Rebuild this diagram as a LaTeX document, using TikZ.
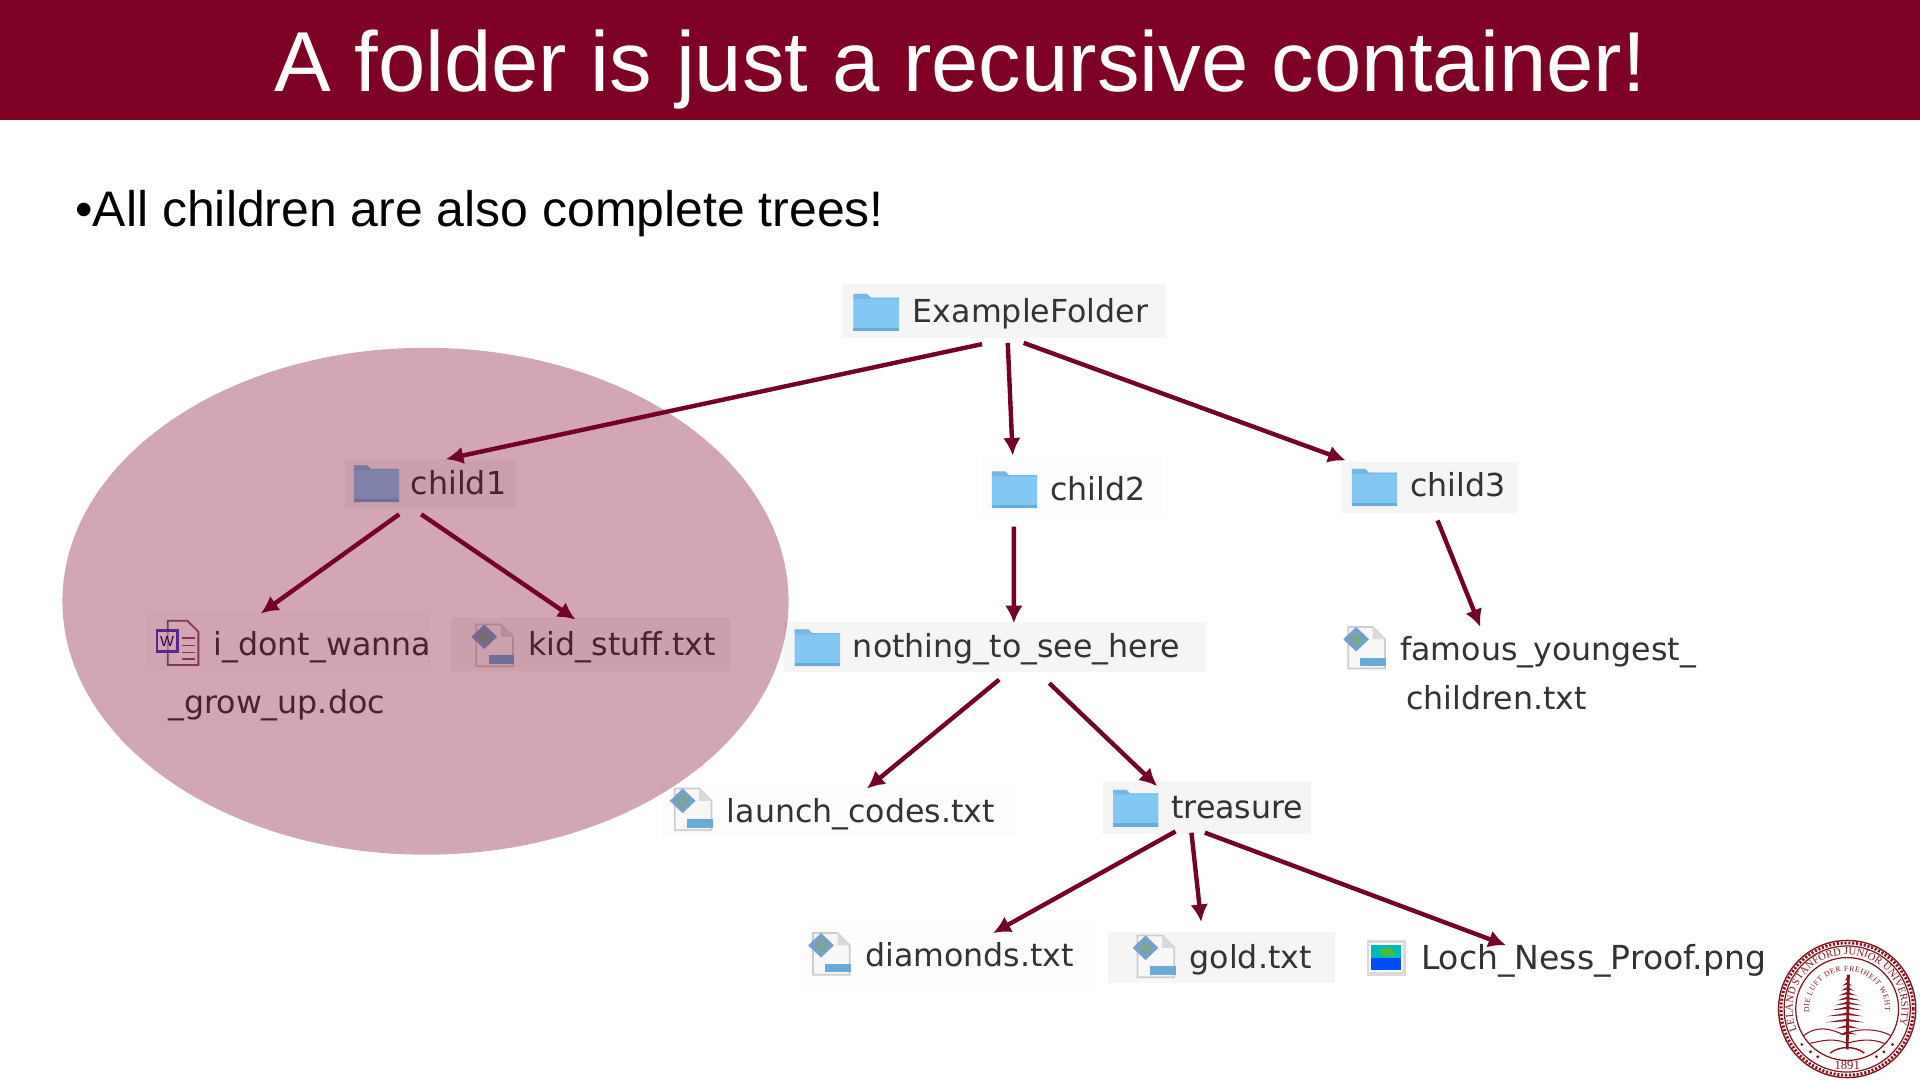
\documentclass[tikz,border=0pt]{standalone}
\usepackage{fontspec}
\setmainfont{Liberation Sans}
\newfontfamily\finderfont{DejaVu Sans}
\newfontfamily\sealfont{Liberation Serif}
\usepackage{xcolor}
\usetikzlibrary{positioning, arrows.meta, calc, fit, decorations.text}
\definecolor{SUBand}{RGB}{126,0,37}
\definecolor{SUArrow}{RGB}{115,0,40}
\definecolor{SUSeal}{RGB}{130,20,30}
\definecolor{SUFolder}{RGB}{130,200,245}
\definecolor{SUFolderDark}{RGB}{105,170,215}
\definecolor{SUBox}{RGB}{245,245,245}
\definecolor{SUFaint}{RGB}{253,253,253}
\definecolor{SUText}{RGB}{50,50,55}
\definecolor{SUGem}{RGB}{115,160,205}
\definecolor{SUGemCore}{RGB}{120,165,150}
\def\u{0.012245cm}
\tikzset{
  filebox/.style={inner sep=0pt, outer sep=0pt, draw=none, fill=#1},
  filelabel/.style={font=\finderfont\fontsize{9}{11}\selectfont, text=SUText,
                    anchor=mid west, inner sep=0pt},
  treearrow/.style={draw=SUArrow, line width=1.25pt,
                    -{Latex[length=5pt,width=5pt]}},
  pics/folder/.style={code={
    \fill[SUFolder] (0,2) -- (11,2) -- (14,5) -- (37,5) -- (37,32) -- (0,32) -- cycle;
    \fill[SUFolderDark] (0,29.5) rectangle (37,32);
    \fill[SUFolderDark, fill opacity=0.5] (0,2) -- (11,2) -- (14,5) -- (37,5) -- (37,6) -- (0,6) -- cycle;
  }},
  pics/textfile/.style={code={
    \fill[white!94!gray] (4,0) -- (24,0) -- (34,10) -- (34,34) -- (4,34) -- cycle;
    \draw[gray!40, line width=0.5pt] (4,0) -- (24,0) -- (34,10) -- (34,34) -- (4,34) -- cycle;
    \fill[gray!30] (24,0) -- (24,10) -- (34,10) -- cycle;
    \fill[SUGem] (10.5,0) -- (21,10) -- (10.5,20) -- (0,10) -- cycle;
    \fill[SUGemCore] (10.5,4) -- (16,10) -- (10.5,16) -- (5,10) -- cycle;
    \fill[SUFolderDark] (14,25) rectangle (35,32);
  }},
  pics/wordfile/.style={code={
    \fill[white, fill opacity=0.6] (10,0) -- (26,0) -- (35,9) -- (35,36) -- (10,36) -- cycle;
    \draw[gray!70!SUBand, line width=0.5pt] (10,0) -- (26,0) -- (35,9) -- (35,36) -- (10,36) -- cycle;
    \foreach \ly in {14,20,26,31} \draw[gray!70!SUBand, line width=0.4pt] (22,\ly) -- (32,\ly);
    \fill[white, fill opacity=0.5] (1,8) rectangle (18,25);
    \draw[blue!50!gray, line width=0.7pt] (1,8) rectangle (18,25);
    \node[font=\fontsize{4.2}{5}\selectfont, text=blue!50!black, inner sep=0pt] (wordmark) at (9.5,16.5) {W};
  }},
  pics/imagefile/.style={code={
    \fill[gray!30] (0,0) rectangle (32,29);
    \fill[white] (2,2) rectangle (30,26);
    \fill[blue!70!cyan] (4,14) rectangle (28,24);
    \fill[teal!55!cyan] (4,4) rectangle (28,14);
    \fill[green!50!gray] (10,8) -- (20,5) -- (24,12) -- (14,14) -- cycle;
  }},
}

\begin{document}
\begin{tikzpicture}[x=\u, y=-\u]
  \useasboundingbox (0,0) rectangle (1568,882);

  % Title band and bullet line
  \fill[SUBand] (0,0) rectangle (1568,98);
  \node[font=\fontsize{24.2}{28}\selectfont, text=white, inner sep=0pt] (title) at (784,57)
    {A folder is just a recursive container!};
  \node[font=\fontsize{14.2}{17}\selectfont, anchor=base west, inner sep=0pt] (bullet) at (61,185)
    {•All children are also complete trees!};

  % Finder rows
  \foreach \id/\xa/\ya/\xb/\yb/\shade in {
    root/688/232/952/276/SUBox, child1/282/375/421/415/SUBox,
    child2/801/372/950/422/SUFaint, child3/1095/377/1240/419/SUBox,
    idont/120/501/350/548/SUFaint, kid/368/505/596/548/SUBox,
    nothing/640/508/985/549/SUBox, famous/1095/512/1382/590/white,
    launch/540/640/830/685/SUFaint, treasure/901/638/1071/681/SUBox,
    diamonds/655/757/895/805/SUFaint, gold/905/761/1090/803/SUBox,
    loch/1116/768/1441/797/white} {
    \node[filebox=\shade, fit={(\xa,\ya) (\xb,\yb)}] (\id) {};
  }

  % Icons
  \foreach \ix/\iy in {697/238, 289/378, 810/383, 1104/381, 649/512, 909/643} {
    \pic at (\ix,\iy) {folder};
  }
  \foreach \ix/\iy in {385/510, 1097/512, 547/644, 660/762, 925/764} {
    \pic at (\ix,\iy) {textfile};
  }
  \pic at (127,507) {wordfile};
  \pic at (1116,768) {imagefile};

  % Labels
  \foreach \id/\lx/\ly/\txt in {
    rootname/745/256/ExampleFolder, childonename/335/396/child1,
    childtwoname/857/401/child2, childthreename/1151/398/child3,
    growname/137/575/\_grow\_up.doc,
    kidname/431/528/kid\_stuff.txt, nothingname/696/529/nothing\_to\_see\_here,
    famousname/1143/532/famous\_youngest\_, childrenname/1148/572/children.txt,
    launchname/593/664/launch\_codes.txt, treasurename/956/661/treasure,
    diamondsname/706/782/diamonds.txt, goldname/971/783/gold.txt} {
    \node[filelabel] (\id) at (\lx,\ly) {\txt};
  }
  \node[filelabel, font=\finderfont\fontsize{9.4}{11}\selectfont] (lochname) at (1160,784) {Loch\_Ness\_Proof.png};
  \begin{scope}
    \clip (120,501) rectangle (351,548);
    \node[filelabel] (idontname) at (174,528) {i\_dont\_wanna\_};
  \end{scope}

  % Highlight over the first subtree
  \fill[SUBand, fill opacity=0.35] (347.5,491) ellipse (296.5 and 207);

  % Connectors
  \foreach \from/\fx/\fy/\to/\tx/\ty in {
    root/-18/5/child1/12.5/0, root/3/4/child2/-48.5/0, root/16/4/child3/-68.5/-1,
    child1/-25.5/5/idont/-22/0, child1/-7.5/5/kid/-12/1,
    child2/-47.5/8/nothing/15.5/1, child3/6.5/6/famous/-29.5/0,
    nothing/3.5/6/launch/23/4, nothing/44.5/9/treasure/-41/4,
    treasure/-26/-2/diamonds/36/5, treasure/-13/-1/gold/-16.5/-8,
    treasure/-2/-1/loch/-48.5/4} {
    \draw[treearrow] ($(\from.south)+(\fx,\fy)$) -- ($(\to.north)+(\tx,\ty)$);
  }

  % Seal
  \begin{scope}[shift={(1508.5,824)}, x=\u, y=\u, SUSeal]
    \draw[line width=0.4pt] (0,0) circle (56);
    \draw[line width=0.8pt, dash pattern=on 0.6pt off 0.5pt] (0,0) circle (54);
    \draw[line width=0.35pt] (0,0) circle (51.5);
    \draw[line width=0.35pt] (0,0) circle (42);
    \path[decorate, decoration={text along path, text align=fit to path,
        text={|\sealfont\fontsize{3}{3}\selectfont\color{SUSeal}|LELAND STANFORD JUNIOR UNIVERSITY}}]
      (203:44.5) arc (203:-17:44.5);
    \path[decorate, decoration={text along path, text align=fit to path,
        text={|\sealfont\fontsize{2.2}{3}\selectfont\color{SUSeal}|DIE LUFT DER FREIHEIT WEHT}}]
      (186:31) arc (186:-4:31);
    \node[font=\sealfont\fontsize{3.6}{4}\selectfont, inner sep=0pt] (sealyear) at (0,-46) {1891};
    % Stars on either side of the year
    \foreach \sx/\sy in {37/-29, 30/-35, 24/-39} {
      \fill (-\sx,\sy) circle (1.3);
      \fill (\sx,\sy) circle (1.3);
    }
    % Tree and hills
    \draw[line width=0.8pt] (0,-33) -- (1,28);
    \foreach \by/\bl/\br in {26/2/2, 22/4/4, 18/5/6, 14/7/8, 10/8/11, 6/10/12,
                             2/13/12, -3/17/13, -8/18/14, -13/10/10, -18/6/8} {
      \fill (0,\by) -- (-\bl,\by-3) -- (0,\by-2) -- (\br,\by-3) -- cycle;
    }
    \draw[line width=0.3pt] (-36,-22) .. controls (-24,-13) and (-14,-16) .. (-3,-21)
      .. controls (6,-16) and (24,-15) .. (36,-22);
    \draw[line width=0.3pt] (-30,-28) .. controls (-14,-24) and (-8,-25) .. (0,-28)
      .. controls (10,-25) and (20,-24) .. (30,-28);
    \draw[line width=0.4pt] (-14,-36) .. controls (-6,-30) and (6,-30) .. (14,-36);
  \end{scope}
\end{tikzpicture}
\end{document}
